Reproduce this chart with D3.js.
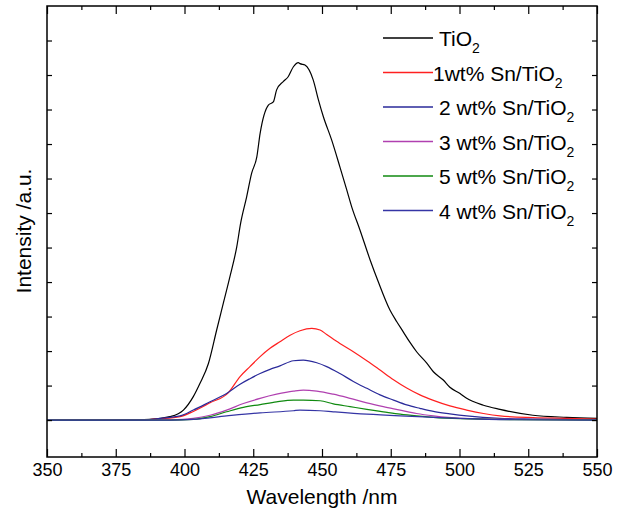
<!DOCTYPE html>
<html>
<head>
<meta charset="utf-8">
<script src="https://cdn.jsdelivr.net/npm/d3@7"></script>
<style>
  html, body { margin: 0; padding: 0; background: #fff; }
  svg { display: block; font-family: "Liberation Sans", Arial, sans-serif; }
</style>
</head>
<body>
<svg id="chart" width="622" height="517"></svg>
<script>
// ---- Data (wavelength nm, intensity a.u.) ----
const seriesNames = ["TiO2", "1wt% Sn/TiO2", "2 wt% Sn/TiO2", "3 wt% Sn/TiO2", "5 wt% Sn/TiO2", "4 wt% Sn/TiO2"];
const seriesColors = ["#000000", "#ff2020", "#2a2a9a", "#b040b0", "#108a10", "#3535a5"];

const tio2 = [[350,0],[360,0],[370,0],[380,0.01],[387.5,0.02],[394.7,0.1],[399.6,0.29],[403.2,0.68],[405.6,1.06],[408.7,1.64],[411.7,2.61],[414.1,3.38],[416.5,4.15],[419.0,5.02],[420.4,5.70],[422.6,6.47],[424.4,7.15],[426.3,7.63],[427.5,8.31],[430.5,9.13],[432.3,9.22],[433.5,9.57],[435.9,9.81],[437.7,9.95],[439.6,10.24],[441.4,10.36],[442.0,10.33],[443.8,10.29],[446.8,9.86],[448.7,9.28],[450.5,8.79],[453.5,8.12],[456.5,7.34],[459.0,6.67],[460.8,6.18],[463.8,5.51],[467.5,4.64],[470.5,4.0],[474.7,3.19],[477.2,2.85],[479.6,2.55],[482.0,2.25],[484.4,1.98],[488.1,1.65],[490.5,1.40],[494.1,1.16],[496.5,0.95],[500.2,0.77],[502.6,0.63],[508.7,0.43],[514.7,0.31],[526.7,0.14],[539.0,0.08],[550,0.05]];
const sn1 = [[350,0],[370,0],[385,0.01],[391.1,0.04],[398.4,0.1],[403.2,0.25],[409.3,0.5],[415.9,0.79],[420.2,1.26],[423.8,1.55],[427.5,1.84],[431.1,2.08],[434.7,2.27],[438.4,2.46],[442.0,2.59],[446.3,2.66],[449.3,2.61],[451.7,2.48],[456.5,2.22],[461.4,1.98],[466.3,1.72],[471.1,1.45],[476.0,1.17],[480.8,0.93],[485.6,0.73],[490.5,0.57],[496.5,0.41],[502.6,0.29],[508.7,0.19],[514.7,0.12],[526.7,0.07],[539,0.05],[550,0.03]];
const sn2 = [[350,0],[370,0],[385,0.01],[391.1,0.05],[398.4,0.12],[403.2,0.29],[409.3,0.53],[415.3,0.77],[420.2,1.04],[423.8,1.2],[427.5,1.35],[431.1,1.47],[434.7,1.57],[439.6,1.72],[443.2,1.74],[448.1,1.66],[451.7,1.55],[456.5,1.35],[461.4,1.12],[466.3,0.92],[471.1,0.73],[476.0,0.58],[480.8,0.44],[485.6,0.34],[490.5,0.25],[496.5,0.18],[502.6,0.12],[514.7,0.05],[526.7,0.03],[550,0.01]];
const sn3 = [[350,0],[380,0],[395,0.01],[403.2,0.05],[409.3,0.14],[415.3,0.29],[421.4,0.48],[427.5,0.63],[433.5,0.75],[439.6,0.84],[443.2,0.87],[448.1,0.84],[454.1,0.75],[460.2,0.63],[466.3,0.50],[472.3,0.39],[478.4,0.29],[484.4,0.19],[490.5,0.12],[500.2,0.05],[520,0.02],[550,0.01]];
const sn5 = [[350,0],[380,0],[395,0.0],[403.2,0.02],[409.3,0.10],[415.3,0.24],[421.4,0.37],[427.5,0.45],[433.5,0.53],[439.6,0.58],[443.2,0.58],[449.3,0.56],[454.1,0.47],[460.2,0.39],[466.3,0.31],[472.3,0.24],[478.4,0.17],[484.4,0.12],[490.5,0.08],[500.2,0.04],[520,0.01],[550,0]];
const sn4 = [[350,0],[380,0],[395,0.0],[403.2,0.02],[415.3,0.12],[427.5,0.21],[439.6,0.27],[442,0.29],[449.3,0.27],[454.1,0.24],[466.3,0.17],[478.4,0.12],[490.5,0.08],[500.2,0.05],[520,0.01],[550,0]];
const seriesData = [tio2, sn1, sn2, sn3, sn5, sn4];

const xTicks = [350, 375, 400, 425, 450, 475, 500, 525, 550];
const xMinorTicks = [362.5, 387.5, 412.5, 437.5, 462.5, 487.5, 512.5, 537.5];
const yTicks = [0,1,2,3,4,5,6,7,8,9,10,11];
const xTitle = "Wavelength /nm";
const yTitle = "Intensity /a.u.";

// ---- Layout ----
const svg = d3.select("#chart");
const L = 47, R = 597, T = 6, B = 457;
const x = d3.scaleLinear().domain([350, 550]).range([L, R]);
const y = d3.scaleLinear().domain([-1.07, 12]).range([B, T]);

// curves
const line = d3.line().x(d => x(d[0])).y(d => y(d[1])).curve(d3.curveMonotoneX);
seriesData.forEach((data, i) => {
  svg.append("path")
    .datum(data)
    .attr("d", line)
    .attr("fill", "none")
    .attr("stroke", seriesColors[i])
    .attr("stroke-width", 1.2);
});

// axes (ticks inward)
function styleAxis(g) {
  g.select(".domain").remove();
  g.selectAll("line").attr("stroke", "#000").attr("stroke-width", 1.2);
  g.selectAll("text").attr("font-family", "Liberation Sans, Arial, sans-serif");
}
const gxb = svg.append("g").attr("transform", `translate(0,${B})`)
  .call(d3.axisBottom(x).tickValues(xTicks).tickSize(-8).tickPadding(6).tickFormat(d3.format("d")));
styleAxis(gxb);
gxb.selectAll("text").attr("font-size", 18).attr("fill", "#000");
const gxbm = svg.append("g").attr("transform", `translate(0,${B})`)
  .call(d3.axisBottom(x).tickValues(xMinorTicks).tickSize(-4).tickFormat(""));
styleAxis(gxbm);
const gxt = svg.append("g").attr("transform", `translate(0,${T})`)
  .call(d3.axisTop(x).tickValues(xTicks).tickSize(-8).tickFormat(""));
styleAxis(gxt);
const gxtm = svg.append("g").attr("transform", `translate(0,${T})`)
  .call(d3.axisTop(x).tickValues(xMinorTicks).tickSize(-4).tickFormat(""));
styleAxis(gxtm);
const gyl = svg.append("g").attr("transform", `translate(${L},0)`)
  .call(d3.axisLeft(y).tickValues(yTicks).tickSize(-5).tickFormat(""));
styleAxis(gyl);
const gyr = svg.append("g").attr("transform", `translate(${R},0)`)
  .call(d3.axisRight(y).tickValues(yTicks).tickSize(-5).tickFormat(""));
styleAxis(gyr);

// frame
svg.append("rect").attr("x", L).attr("y", T).attr("width", R - L).attr("height", B - T)
  .attr("fill", "none").attr("stroke", "#000").attr("stroke-width", 1.5);

// titles
svg.append("text").attr("x", (L + R) / 2).attr("y", 504).attr("text-anchor", "middle")
  .attr("font-size", 21).attr("fill", "#000").text(xTitle);
svg.append("text").attr("transform", `translate(31,${231}) rotate(-90)`).attr("text-anchor", "middle")
  .attr("font-size", 21).attr("fill", "#000").text(yTitle);

// legend
const legRow0 = 38, legStep = 34.5;
seriesNames.forEach((name, i) => {
  const yy = legRow0 + i * legStep;
  svg.append("line").attr("x1", 383).attr("x2", 433).attr("y1", yy).attr("y2", yy)
    .attr("stroke", seriesColors[i]).attr("stroke-width", 1.5);
  const base = name.slice(0, -1);
  const sub = name.slice(-1);
  const t = svg.append("text").attr("x", i === 1 ? 433 : 439).attr("y", yy + 8)
    .attr("font-size", 21).attr("fill", "#000");
  t.append("tspan").text(base);
  t.append("tspan").attr("font-size", 14).attr("dy", 7).text(sub);
});
</script>
</body>
</html>
